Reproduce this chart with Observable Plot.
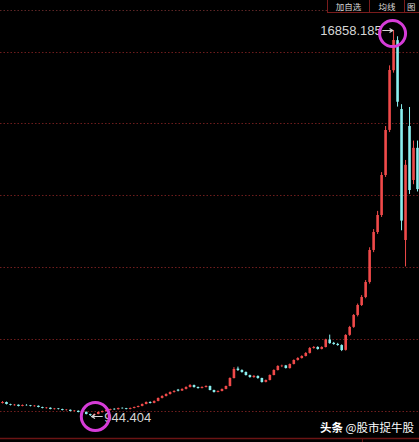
<!DOCTYPE html>
<html><head><meta charset="utf-8">
<script src="https://cdn.jsdelivr.net/npm/d3@7"></script>
<script src="https://cdn.jsdelivr.net/npm/@observablehq/plot@0.6"></script>
<style>
html,body{margin:0;padding:0;background:#000;overflow:hidden;}
#wrap{position:relative;width:419px;height:442px;overflow:hidden;background:#000;}
#chart svg{position:absolute;left:0;top:0;}
.btn{position:absolute;top:0;height:12px;line-height:12px;border:1px solid #7a1c1c;border-top:none;color:#d8d8d8;font-size:8.5px;font-family:"Noto Sans CJK SC",sans-serif;text-align:center;background:#000;z-index:2;}
#wm{position:absolute;left:320px;top:419px;font-size:11.5px;line-height:17px;font-family:"Noto Sans CJK SC",sans-serif;color:#fff;white-space:nowrap;z-index:2;}
#wm b{font-weight:700;}
</style></head>
<body>
<div id="wrap">
  <div id="chart"></div>
  <div class="btn" style="left:327px;width:41px;">加自选</div>
  <div class="btn" style="left:369px;width:34px;">均线</div>
  <div class="btn" style="left:404px;width:13px;text-align:left;padding-left:2px;">图</div>
  <div id="wm"><b>头条</b> @股市捉牛股</div>
</div>
<script>
const opens = [1480,1522,1430,1390,1410,1360,1400,1385,1350,1365,
1310,1270,1285,1230,1255,1230,1190,1200,1150,1160,
1105,1115,1025,990,1030,1105,1150,1190,1240,1225,
1280,1265,1235,1275,1315,1360,1440,1520,1485,1565,
1690,1770,1850,1935,2030,1995,2060,2140,2220,2140,
2100,2140,2180,2015,1935,1975,2060,2180,2510,2900,
2840,2760,2630,2550,2595,2510,2350,2430,2635,2840,
3000,3030,2920,3090,3255,3335,3420,3545,3750,3790,
3710,3790,4100,3960,3915,3870,3670,4290,4620,5110,
5520,5850,6470,7790,8530,9230,10880,12740,15200,16440,
13600,8200,12900,10675,12000];
const closes = [1522,1439,1398,1410,1357,1398,1390,1357,1370,1315,
1274,1290,1233,1250,1233,1192,1205,1150,1165,1109,
1120,1027,986,1027,1109,1150,1192,1233,1220,1274,
1265,1233,1274,1315,1357,1439,1522,1480,1563,1686,
1769,1851,1934,1975,1990,2058,2140,2222,2140,2099,
2140,2181,2016,1934,1975,2058,2181,2511,2882,2841,
2759,2635,2552,2600,2511,2346,2429,2635,2841,3006,
3020,2923,3088,3253,3336,3418,3542,3748,3789,3707,
3789,4100,3950,3913,3872,3665,4284,4614,5109,5521,
5851,6469,7789,8531,9231,10881,12736,15210,16446,13900,
9000,11300,10260,12000,10300];
const highs = [1560,1540,1450,1440,1420,1420,1430,1400,1395,1380,
1330,1315,1300,1275,1270,1245,1230,1215,1190,1175,
1150,1130,1040,1050,1130,1170,1215,1250,1265,1290,
1300,1280,1295,1335,1375,1460,1545,1550,1590,1710,
1800,1880,1960,2010,2060,2090,2170,2260,2240,2160,
2170,2210,2200,2030,2000,2080,2200,2540,2960,2980,
2870,2780,2650,2630,2620,2525,2450,2660,2870,3040,
3060,3050,3110,3280,3370,3450,3580,3790,3830,3820,
3820,4130,4300,4000,3960,3900,4320,4660,5150,5580,
5930,6550,7900,8650,9400,11000,12900,15400,16858.185,16600,
13800,11500,13684,12300,12300];
const lows = [1460,1420,1380,1370,1340,1345,1370,1340,1330,1300,
1260,1250,1220,1210,1215,1175,1170,1135,1130,1095,
1085,1010,944.404,970,1015,1090,1135,1175,1200,1210,
1245,1215,1220,1260,1300,1345,1425,1460,1470,1550,
1670,1750,1830,1910,1960,1975,2040,2120,2110,2070,
2080,2120,2000,1910,1920,1960,2045,2165,2490,2800,
2730,2610,2520,2520,2480,2320,2330,2410,2620,2820,
2960,2900,2900,3070,3230,3310,3400,3520,3720,3680,
3690,3770,3920,3880,3840,3620,3640,4250,4580,5050,
5480,5800,6400,7700,8450,9150,10800,12650,15100,13700,
8600,7110,10100,10500,10200];
const gridValues = [1150, 4119, 7087, 10056, 13024, 15950];
const yDomain = [37.4, 17682.6];
const maxValue = 16858.185, maxIndex = 98;
const minValue = 944.404, minIndex = 22;
const axisTicks = [90.2];

const upColor = "#f04a4a", downColor = "#8af0f0";
const bars = opens.map((o, i) => ({i, open: o, close: closes[i], high: highs[i], low: lows[i], up: closes[i] >= o}));
const col = d => d.up ? upColor : downColor;
const numFont = "Liberation Sans, Arial, sans-serif";
const labelColor = "#d6d6d6";

const chart = Plot.plot({
  width: 419, height: 442,
  marginTop: 10, marginBottom: 4, marginLeft: 0, marginRight: 0,
  style: {background: "#000", color: "#6b1414", overflow: "visible"},
  x: {domain: [-0.5, bars.length - 0.5], ticks: axisTicks, tickSize: 4, tickFormat: () => "", label: null},
  y: {domain: yDomain, axis: null},
  marks: [
    Plot.ruleY(gridValues, {stroke: "#701e1e", strokeDasharray: "1.5,2", strokeWidth: 1}),
    Plot.ruleY([yDomain[1]], {stroke: "#5e2626", strokeDasharray: "1.5,2", strokeWidth: 1}),
    Plot.ruleY([yDomain[0]], {stroke: "#6b1414", strokeWidth: 1.5}),
    Plot.ruleX(bars, {x: "i", y1: "low", y2: "high", stroke: col, strokeWidth: 1}),
    Plot.ruleX(bars, {x: "i", y1: "open", y2: "close", stroke: col, strokeWidth: 2.6}),
    Plot.arrow([{i: maxIndex, v: maxValue}], {x1: d => d.i - 2.7, x2: d => d.i - 0.2, y1: "v", y2: "v", stroke: labelColor, strokeWidth: 1.2, headLength: 5}),
    Plot.arrow([{i: minIndex, v: minValue}], {x1: d => d.i + 3.0, x2: d => d.i + 0.3, y1: "v", y2: "v", stroke: labelColor, strokeWidth: 1.2, headLength: 5}),
    Plot.text([{i: maxIndex, v: maxValue}], {x: d => d.i - 2.7, y: "v", text: d => d3.format(".3f")(d.v), textAnchor: "end", dx: -1, fill: labelColor, fontSize: 13, fontFamily: numFont}),
    Plot.text([{i: minIndex, v: minValue}], {x: d => d.i + 3.0, y: "v", text: d => d3.format(".3f")(d.v), textAnchor: "start", dx: 2, dy: 1, fill: labelColor, fontSize: 13, fontFamily: numFont}),
    Plot.dot([{i: maxIndex, v: maxValue}], {x: "i", y: "v", r: 13, dx: -1, dy: 3, stroke: "#d63cd8", strokeWidth: 3, fill: "none"}),
    Plot.dot([{i: minIndex, v: minValue}], {x: "i", y: "v", r: 14, dx: 5, dy: 0, stroke: "#d63cd8", strokeWidth: 3, fill: "none"})
  ]
});
document.getElementById("chart").append(chart);
</script>
</body></html>
